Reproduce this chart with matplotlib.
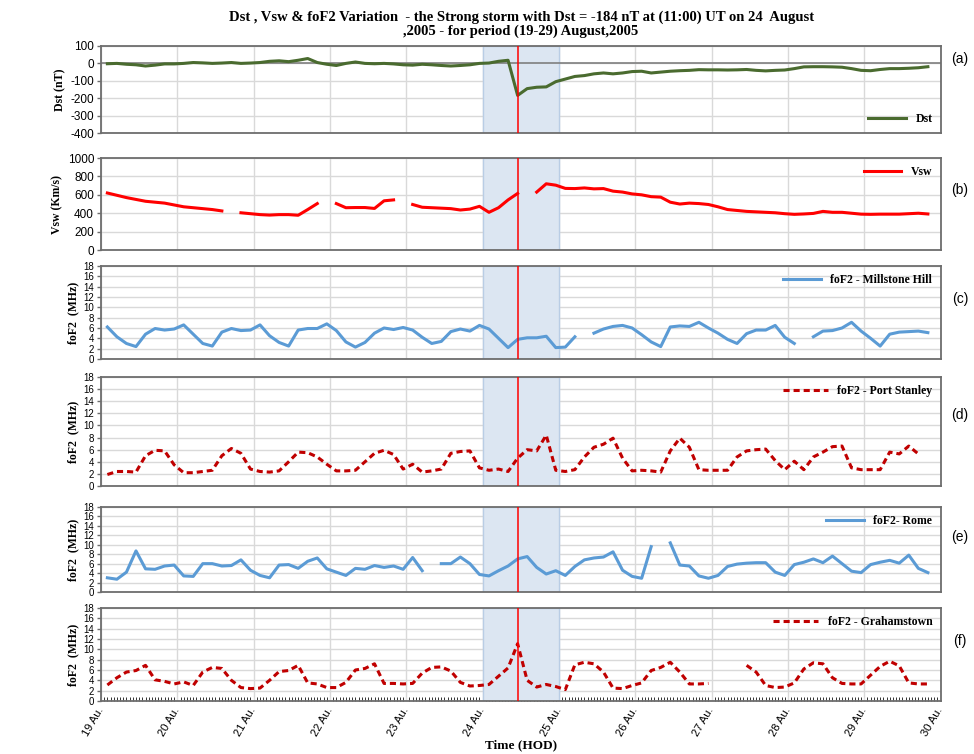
import numpy as np
import matplotlib
matplotlib.use("Agg")
import matplotlib.pyplot as plt

plt.rcParams["axes.unicode_minus"] = False

# 3-hourly samples, 19 Aug 02 UT .. 29 Aug 20 UT (hours since 19 Aug 00 UT)
hours = np.arange(2, 261, 3)
days = 19 + hours / 24.0
nan = np.nan

dst = [-2, 0, -5, -8, -15, -10, -3, -3,
       0, 5, 3, 0, 2, 5, 0, 2,
       5, 12, 15, 10, 18, 28, 5, -5,
       -12, 0, 8, 0, -2, 0, -3, -8,
       -10, -5, -8, -12, -15, -12, -8, 0,
       2, 12, 18, -184, -145, -137, -135, -105,
       -90, -75, -70, -60, -55, -60, -55, -47,
       -45, -55, -50, -45, -42, -40, -36, -37,
       -37, -38, -37, -35, -40, -43, -40, -38,
       -30, -20, -19, -19, -20, -22, -30, -40,
       -42, -35, -30, -30, -28, -25, -19]

vsw = [620, 595, 570, 550, 530, 520, 510, 490,
       470, 460, 450, 440, 425, nan, 405, 395,
       385, 380, 385, 385, 378, 440, 505, nan,
       505, 460, 462, 462, 452, 535, 545, nan,
       495, 465, 460, 455, 450, 435, 445, 475,
       410, 460, 545, 615, nan, 630, 720, 705,
       670, 668, 675, 665, 668, 640, 630, 610,
       600, 580, 575, 520, 500, 510, 505, 495,
       470, 440, 430, 420, 415, 410, 405, 395,
       388, 392, 398, 420, 410, 410, 400, 390,
       388, 390, 390, 390, 395, 400, 392]

millstone = [6.2, 4.3, 3.0, 2.4, 4.8, 5.9, 5.6, 5.8,
             6.6, 4.8, 3.0, 2.5, 5.2, 5.9, 5.5, 5.6,
             6.6, 4.5, 3.2, 2.5, 5.6, 5.9, 5.9, 6.8,
             5.5, 3.3, 2.3, 3.2, 5.0, 6.0, 5.7, 6.1,
             5.6, 4.2, 3.0, 3.4, 5.3, 5.8, 5.4, 6.5,
             5.8, 4.0, 2.2, 3.8, 4.1, 4.1, 4.4, 2.2,
             2.3, 4.3, nan, 5.0, 5.8, 6.3, 6.5, 6.0,
             4.7, 3.3, 2.4, 6.2, 6.4, 6.3, 7.1, 6.0,
             5.0, 3.8, 3.0, 4.9, 5.6, 5.6, 6.5, 4.2,
             3.0, nan, 4.3, 5.4, 5.5, 6.0, 7.1, 5.4,
             4.0, 2.5, 4.8, 5.2, 5.3, 5.4, 5.1]

port_stanley = [1.9, 2.4, 2.4, 2.3, 5.0, 5.9, 5.8, 3.5,
                2.2, 2.2, 2.4, 2.6, 5.0, 6.2, 5.4, 2.8,
                2.4, 2.3, 2.5, 4.0, 5.6, 5.5, 4.8, 3.6,
                2.5, 2.5, 2.6, 4.0, 5.4, 5.9, 5.2, 2.8,
                3.6, 2.3, 2.5, 2.8, 5.4, 5.7, 5.8, 3.0,
                2.6, 2.8, 2.4, 4.6, 6.0, 5.8, 8.4, 2.6,
                2.4, 2.7, 4.8, 6.4, 6.9, 7.9, 4.6, 2.5,
                2.6, 2.5, 2.3, 5.8, 7.9, 6.4, 2.7, 2.6,
                2.6, 2.6, 4.8, 5.8, 6.0, 6.1, 4.2, 2.7,
                4.1, 2.7, 4.8, 5.6, 6.5, 6.6, 3.0, 2.7,
                2.7, 2.7, 5.6, 5.3, 6.6, 5.3, nan]

rome = [3.0, 2.7, 4.2, 8.7, 4.9, 4.8, 5.5, 5.7,
        3.4, 3.3, 6.0, 6.0, 5.5, 5.6, 6.8, 4.6,
        3.5, 3.0, 5.7, 5.8, 5.0, 6.5, 7.2, 4.9,
        4.2, 3.5, 5.0, 4.8, 5.6, 5.2, 5.5, 4.8,
        7.3, 4.5, nan, 6.0, 6.0, 7.4, 6.0, 3.7,
        3.4, 4.5, 5.5, 7.0, 7.5, 5.2, 3.8, 4.5,
        3.5, 5.4, 6.8, 7.2, 7.4, 8.5, 4.6, 3.3,
        2.9, 9.6, nan, 10.4, 5.7, 5.5, 3.4, 2.9,
        3.5, 5.4, 5.9, 6.1, 6.2, 6.2, 4.2, 3.5,
        5.8, 6.3, 7.0, 6.2, 7.6, 6.0, 4.4, 4.1,
        5.8, 6.3, 6.7, 6.1, 7.8, 5.0, 4.1]

grahamstown = [3.1, 4.5, 5.6, 5.9, 6.9, 4.1, 3.8, 3.3,
               3.7, 3.0, 5.6, 6.5, 6.3, 4.0, 2.6, 2.4,
               2.5, 4.0, 5.7, 5.9, 6.9, 3.5, 3.3, 2.6,
               2.6, 3.6, 6.0, 6.3, 7.2, 3.4, 3.4, 3.3,
               3.4, 5.4, 6.5, 6.6, 5.8, 3.6, 2.9, 3.0,
               3.2, 4.8, 6.4, 11.1, 4.0, 2.7, 3.2, 2.8,
               2.2, 7.0, 7.5, 7.2, 5.6, 2.5, 2.4, 3.0,
               3.5, 5.9, 6.5, 7.5, 5.6, 3.3, 3.3, 3.4,
               nan, nan, nan, 6.9, 5.6, 3.0, 2.6, 2.7,
               3.5, 6.2, 7.4, 7.2, 4.5, 3.4, 3.3, 3.3,
               5.0, 6.7, 7.7, 6.8, 3.5, 3.3, 3.3]

day_ticks = list(range(19, 31))
day_labels = [f"{d} Au." for d in day_ticks]
storm_day = 24 + 11 / 24.0

serif = "Liberation Serif"
sans = "Liberation Sans"

fig = plt.figure(figsize=(9.74, 7.54), dpi=100)

L, W = 0.1037, 0.862
boxes = [(0.8236, 0.1154), (0.6684, 0.1220), (0.5239, 0.1233),
         (0.3554, 0.1446), (0.2149, 0.1127), (0.0703, 0.1233)]

series = [
    (dst, "Dst", "#4a6b2f", "-", "Dst (nT)", (-400, 100, 100), "lower right", "(a)"),
    (vsw, "Vsw", "#ff0000", "-", "Vsw (Km/s)", (0, 1000, 200), "upper right", "(b)"),
    (millstone, "foF2 - Millstone Hill", "#5b9bd5", "-", "foF2  (MHz)", (0, 18, 2), "upper right", "(c)"),
    (port_stanley, "foF2 - Port Stanley", "#c00000", "--", "foF2  (MHz)", (0, 18, 2), "upper right", "(d)"),
    (rome, "foF2- Rome", "#5b9bd5", "-", "foF2  (MHz)", (0, 18, 2), "upper right", "(e)"),
    (grahamstown, "foF2 - Grahamstown", "#c00000", "--", "foF2  (MHz)", (0, 18, 2), "upper right", "(f)"),
]

axes = []
for i, (vals, lab, col, ls, ylab, (y0, y1, ys), loc, tag) in enumerate(series):
    b, h = boxes[i]
    ax = fig.add_axes([L, b, W, h])
    axes.append(ax)
    ax.axvspan(24, 25, facecolor="#dce6f2", edgecolor="#b9cde5", lw=1.0, zorder=1)
    line, = ax.plot(days, vals, color=col, lw=2.2, ls=ls, label=lab, zorder=3)
    if ls == "--":
        line.set_dashes((2.0, 1.3))
    ax.axvline(storm_day, color="#ff0000", lw=1.1, zorder=4)
    if i == 0:
        ax.axhline(0, color="#7f7f7f", lw=1.2, zorder=2)
    ax.set_xlim(19, 30)
    ax.set_ylim(y0, y1)
    ax.set_yticks(np.arange(y0, y1 + ys / 2, ys))
    ax.set_xticks(day_ticks)
    ax.grid(True, color="#d9d9d9", lw=1.0, zorder=0)
    ax.set_axisbelow(True)
    for s in ax.spines.values():
        s.set_color("#6d6d6d")
        s.set_linewidth(1.3)
    ax.tick_params(axis="y", length=3, width=1, color="#6d6d6d",
                   labelsize=8.5 if i < 2 else 7, pad=2)
    ax.tick_params(axis="x", length=0)
    for t in ax.get_yticklabels():
        t.set_fontfamily(sans)
    ax.set_ylabel(ylab, fontfamily=serif, fontweight="bold", fontsize=8.5, labelpad=3)
    ax.legend(loc=loc, frameon=False, handlelength=3.2 if ls == "-" else 3.8,
              borderaxespad=0.3, prop={"family": serif, "weight": "bold", "size": 8.5})
    ax.text(1.023, 1.0 - 0.35 * (i > 0) - 0.15 * (i == 0), tag, transform=ax.transAxes,
            fontfamily=sans, fontsize=10, ha="center", va="center")
    if i < 5:
        ax.set_xticklabels([])
    else:
        ax.set_xticklabels(day_labels, rotation=60, ha="right", va="center",
                           rotation_mode="anchor", fontfamily=sans, fontsize=8)
        ax.tick_params(axis="x", pad=5)
        ax.set_xticks(np.arange(19, 30 + 1e-6, 1 / 24.0), minor=True)
        ax.tick_params(axis="x", which="minor", direction="in", length=3, width=0.7, color="#333333")
        ax.set_xlabel("Time (HOD)", fontfamily=serif, fontweight="bold", fontsize=9.5, labelpad=1)

fig.text(0.535, 0.977, "Dst , Vsw & foF2 Variation  - the Strong storm with Dst = -184 nT at (11:00) UT on 24  August",
         ha="center", va="center", fontfamily=serif, fontweight="bold", fontsize=10.5)
fig.text(0.535, 0.959, ",2005 - for period (19-29) August,2005",
         ha="center", va="center", fontfamily=serif, fontweight="bold", fontsize=10.5)

fig.savefig("out.png", dpi=100)
